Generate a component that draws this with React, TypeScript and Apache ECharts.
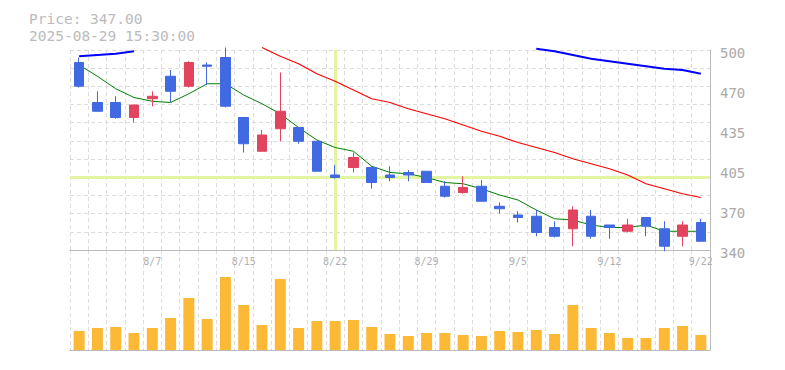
import React, { useEffect, useRef } from "react";
import * as echarts from "echarts";

// ---- data ----
const DATES = [
  "8/1", "8/4", "8/5", "8/6", "8/7", "8/8", "8/12", "8/13", "8/14", "8/15",
  "8/18", "8/19", "8/20", "8/21", "8/22", "8/25", "8/26", "8/27", "8/28", "8/29",
  "9/1", "9/2", "9/3", "9/4", "9/5", "9/8", "9/9", "9/10", "9/11", "9/12",
  "9/16", "9/17", "9/18", "9/19", "9/22",
];
// [open, close, low, high]
const OHLC: number[][] = [
  [490, 471, 470, 494], [458, 451, 451, 467], [458, 446, 445, 463], [446, 456, 442, 456],
  [461, 463, 455, 467], [479, 467, 458, 484], [471, 490, 470, 491], [488, 487, 472, 490],
  [494, 455, 454, 502], [446, 425, 418, 446], [419, 432, 419, 436], [437, 451, 427, 482],
  [438, 427, 425, 438], [427, 403, 403, 427], [400, 398, 397, 408], [406, 414, 402, 418],
  [406, 394, 389, 407], [400, 398, 395, 407], [402, 400, 395, 404], [403, 394, 394, 403],
  [391, 383, 382, 395], [386, 390, 385, 399], [391, 379, 379, 396], [375, 373, 369, 378],
  [368, 366, 362, 371], [367, 354, 351, 372], [358, 351, 350, 363], [357, 372, 343, 375],
  [367, 351, 349, 372], [360, 358, 349, 360], [355, 360, 354, 365], [366, 359, 351, 366],
  [357, 343, 339, 363], [351, 360, 343, 363], [362, 347, 347, 365],
];
const MA_SHORT = [
  488, 479, 469, 462, 459, 458, 465, 473, 473, 464,
  457, 449, 438, 428, 422, 419, 407, 402, 401, 398,
  394, 393, 389, 384, 380, 372, 365, 364, 360, 358,
  358, 360, 355, 355, 355,
];
const MA_MID: (number | null)[] = [
  null, null, null, null, null, null, null, null, null, null,
  502, 495, 489, 481, 475, 468, 461, 458, 453, 449,
  445, 440, 435, 431, 426, 422, 418, 413, 409, 405,
  400, 393, 389, 385, 382,
];
const MA_LONG: (number | null)[] = [
  495, 496, 497, 499, null, null, null, null, null, null,
  null, null, null, null, null, null, null, null, null, null,
  null, null, null, null, null, 501, 499, 496, 493, 491,
  489, 487, 485, 484, 481,
];
// volume, thousand shares
const VOLUME = [
  19, 22, 23, 17, 22, 32, 52, 31, 73, 45,
  25, 71, 22, 29, 29, 30, 23, 16, 14, 17,
  17, 15, 14, 19, 18, 20, 16, 45, 22, 17,
  12, 12, 22, 24, 15,
];
const PRICE_TICK_LABELS = ["340", "370", "405", "435", "470", "500"];
const PRICE_MIN = 340;
const PRICE_MAX = 500;
const PRICE_STEP = 32;
const GRID_DIVISIONS = 11;
const VOL_MAX = 100;
const CROSS_DATE = "8/22";
const CROSS_PRICE = 398.4;
const HEADER_TIME = "2025-08-29 15:30:00";

const MONO = '"DejaVu Sans Mono", monospace';

export default function App() {
  const ref = useRef<HTMLDivElement>(null);
  useEffect(() => {
    document.body.style.margin = "0";
    const chart = echarts.init(ref.current!, null, { renderer: "svg" });
    const split = { show: true, interval: 0, lineStyle: { color: "#dcdcdc", type: [4, 3] as any, width: 1 } };
    const lastClose = OHLC[OHLC.length - 1][1];
    chart.setOption({
      animation: false,
      graphic: [
        {
          type: "text", left: 29, top: 10,
          style: { text: `Price: ${lastClose.toFixed(2)}\n${HEADER_TIME}`, fill: "#bbbbbb", font: `14.5px ${MONO}`, lineHeight: 17 },
        },
      ],
      grid: [
        { left: 70, right: 75, top: 50, height: 200 },
        { left: 70, right: 75, top: 250, height: 100 },
        { left: 70, right: 75, top: 52.5, height: 200 },
      ],
      xAxis: [
        {
          type: "category", gridIndex: 0, data: DATES, boundaryGap: true,
          axisLine: { onZero: false, lineStyle: { color: "#bbbbbb", width: 1 } },
          axisTick: { show: false },
          axisLabel: { interval: (i: number) => i % 5 === 4, color: "#b0b0b0", fontSize: 10, fontFamily: MONO, margin: 6 },
          splitLine: split,
        },
        {
          type: "category", gridIndex: 1, data: DATES, boundaryGap: true,
          axisLine: { onZero: false, lineStyle: { color: "#bbbbbb", width: 1 } },
          axisTick: { show: false },
          axisLabel: { show: false },
          splitLine: split,
        },
        { type: "category", gridIndex: 2, data: DATES, show: false },
      ],
      yAxis: [
        {
          type: "value", gridIndex: 2, position: "right", min: 0, max: PRICE_MAX - PRICE_MIN, interval: PRICE_STEP,
          axisLine: { show: false },
          axisTick: { show: false },
          splitLine: { show: false },
          axisLabel: {
            color: "#aaaaaa", fontSize: 14, fontFamily: MONO, margin: 10,
            formatter: (v: number) => PRICE_TICK_LABELS[Math.round(v / PRICE_STEP)] ?? "",
          },
        },
        {
          type: "value", gridIndex: 0, position: "right", min: 0, max: GRID_DIVISIONS, interval: 1,
          axisLine: { show: true, lineStyle: { color: "#bbbbbb" } }, axisTick: { show: false }, axisLabel: { show: false },
          splitLine: { show: true, lineStyle: { color: "#dcdcdc", type: [4, 3] as any, width: 1 } },
        },
        { type: "value", gridIndex: 0, min: PRICE_MIN, max: PRICE_MAX, show: false, splitLine: { show: false } },
        {
          type: "value", gridIndex: 1, position: "right", min: 0, max: VOL_MAX,
          axisLine: { show: true, lineStyle: { color: "#bbbbbb" } },
          axisTick: { show: false }, axisLabel: { show: false }, splitLine: { show: false },
        },
      ],
      series: [
        {
          type: "line", xAxisIndex: 0, yAxisIndex: 2, data: MA_SHORT, symbol: "none", clip: false, z: 2,
          lineStyle: { color: "#008000", width: 1 },
          markLine: {
            z: 1, silent: true, symbol: "none", label: { show: false },
            lineStyle: { color: "#e4f5a2", width: 3, type: "solid" },
            data: [{ xAxis: CROSS_DATE }, { yAxis: CROSS_PRICE }],
          },
        },
        {
          type: "line", xAxisIndex: 0, yAxisIndex: 2, data: MA_MID, symbol: "none", clip: false, z: 2,
          lineStyle: { color: "#ff0000", width: 1.2 },
        },
        {
          type: "line", xAxisIndex: 0, yAxisIndex: 2, data: MA_LONG, symbol: "none", clip: false, z: 2,
          lineStyle: { color: "#0000ff", width: 2 },
        },
        {
          type: "candlestick", xAxisIndex: 0, yAxisIndex: 2, data: OHLC, barWidth: 10, clip: false, z: 3,
          itemStyle: { color: "#e2435f", color0: "#4169e1", borderColor: "#e2435f", borderColor0: "#4169e1", borderWidth: 1 },
        },
        {
          type: "bar", xAxisIndex: 1, yAxisIndex: 3, data: VOLUME, barWidth: 11,
          itemStyle: { color: "#fcb935" },
        },
      ],
    });
    return () => chart.dispose();
  }, []);
  return <div ref={ref} style={{ width: 785, height: 370 }} />;
}
